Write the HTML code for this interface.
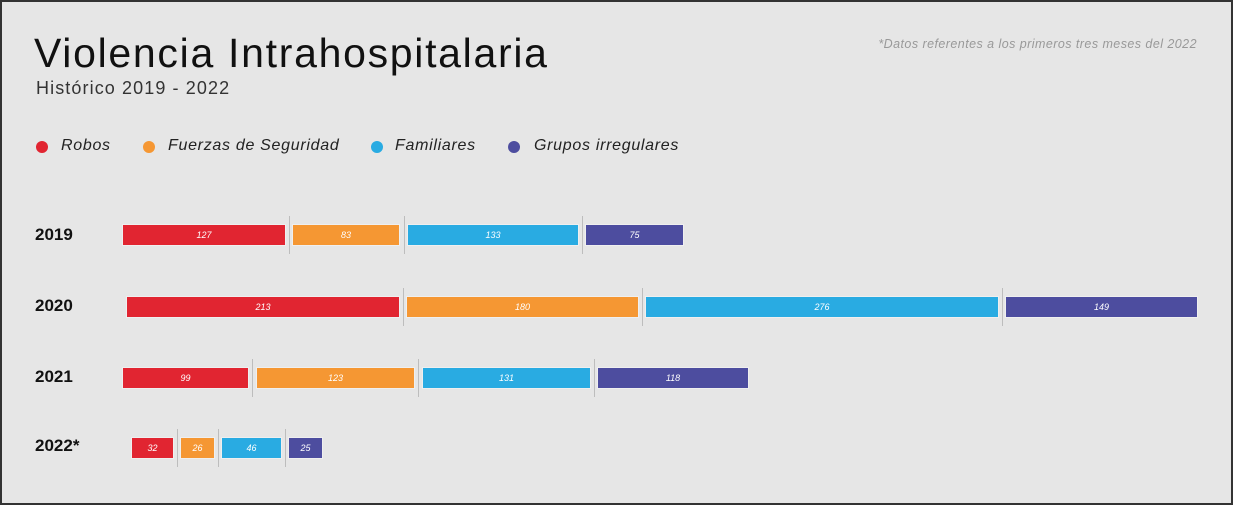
<!DOCTYPE html>
<html><head><meta charset="utf-8"><style>
html,body{margin:0;padding:0}
body{width:1233px;height:505px;background:#e6e6e6;position:relative;overflow:hidden;font-family:"Liberation Sans",sans-serif}
.frame{position:absolute;left:0;top:0;width:1229px;height:501px;border:2px solid #333}
.t{position:absolute;white-space:nowrap}
.lg{font-size:16px;font-style:italic;color:#222;letter-spacing:0.7px}
.bar{position:absolute;height:20px;color:#fff;font-size:9px;font-style:italic;text-align:center;line-height:20px;box-shadow:0 0 0 1px rgba(255,255,255,0.35)}
.sep{position:absolute;width:1px;background:#bdbdbd}
.dot{position:absolute;width:12px;height:12px;border-radius:50%}
.yr{position:absolute;left:35px;font-weight:bold;font-size:17px;color:#111}
</style></head><body>
<div class="frame"></div>
<div class="t" style="left:34px;top:30px;font-size:41px;color:#111;letter-spacing:1.7px">Violencia Intrahospitalaria</div>
<div class="t" style="left:36px;top:78px;font-size:18px;color:#333;letter-spacing:1.1px">Histórico 2019 - 2022</div>
<div class="t" style="right:36px;top:37px;font-size:12.5px;font-style:italic;color:#999;letter-spacing:0.45px">*Datos referentes a los primeros tres meses del 2022</div>

<div class="dot" style="left:36px;top:141px;background:#e12531"></div>
<div class="t lg" style="left:61px;top:137px">Robos</div>
<div class="dot" style="left:143px;top:141px;background:#f59733"></div>
<div class="t lg" style="left:168px;top:137px">Fuerzas de Seguridad</div>
<div class="dot" style="left:371px;top:141px;background:#29abe2"></div>
<div class="t lg" style="left:395px;top:137px">Familiares</div>
<div class="dot" style="left:508px;top:141px;background:#4d4d9f"></div>
<div class="t lg" style="left:534px;top:137px">Grupos irregulares</div>

<div class="yr" style="top:225px">2019</div>
<div class="bar" style="left:123px;top:225px;width:162px;background:#e12531">127</div>
<div class="sep" style="left:289px;top:216px;height:38px"></div>
<div class="bar" style="left:293px;top:225px;width:106px;background:#f59733">83</div>
<div class="sep" style="left:404px;top:216px;height:38px"></div>
<div class="bar" style="left:408px;top:225px;width:170px;background:#29abe2">133</div>
<div class="sep" style="left:582px;top:216px;height:38px"></div>
<div class="bar" style="left:586px;top:225px;width:97px;background:#4d4d9f">75</div>

<div class="yr" style="top:296px">2020</div>
<div class="bar" style="left:127px;top:297px;width:272px;background:#e12531">213</div>
<div class="sep" style="left:403px;top:288px;height:38px"></div>
<div class="bar" style="left:407px;top:297px;width:231px;background:#f59733">180</div>
<div class="sep" style="left:642px;top:288px;height:38px"></div>
<div class="bar" style="left:646px;top:297px;width:352px;background:#29abe2">276</div>
<div class="sep" style="left:1002px;top:288px;height:38px"></div>
<div class="bar" style="left:1006px;top:297px;width:191px;background:#4d4d9f">149</div>

<div class="yr" style="top:367px">2021</div>
<div class="bar" style="left:123px;top:368px;width:125px;background:#e12531">99</div>
<div class="sep" style="left:252px;top:359px;height:38px"></div>
<div class="bar" style="left:257px;top:368px;width:157px;background:#f59733">123</div>
<div class="sep" style="left:418px;top:359px;height:38px"></div>
<div class="bar" style="left:423px;top:368px;width:167px;background:#29abe2">131</div>
<div class="sep" style="left:594px;top:359px;height:38px"></div>
<div class="bar" style="left:598px;top:368px;width:150px;background:#4d4d9f">118</div>

<div class="yr" style="top:436px">2022*</div>
<div class="bar" style="left:132px;top:438px;width:41px;background:#e12531">32</div>
<div class="sep" style="left:177px;top:429px;height:38px"></div>
<div class="bar" style="left:181px;top:438px;width:33px;background:#f59733">26</div>
<div class="sep" style="left:218px;top:429px;height:38px"></div>
<div class="bar" style="left:222px;top:438px;width:59px;background:#29abe2">46</div>
<div class="sep" style="left:285px;top:429px;height:38px"></div>
<div class="bar" style="left:289px;top:438px;width:33px;background:#4d4d9f">25</div>
</body></html>
